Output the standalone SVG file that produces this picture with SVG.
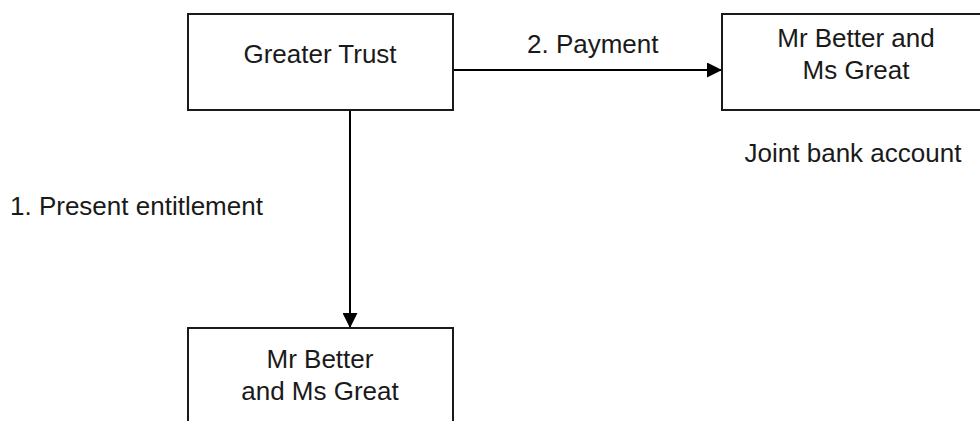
<svg xmlns="http://www.w3.org/2000/svg" width="980" height="421" viewBox="0 0 980 421">
<style>
.box{fill:#fff;stroke:#1a1a1a;stroke-width:2}
.t{font-family:"Liberation Sans",Arial,sans-serif;font-size:26px;fill:#1a1a1a;text-anchor:middle}
.l{font-family:"Liberation Sans",Arial,sans-serif;font-size:26px;fill:#1a1a1a}
.c{fill:none;stroke:#000;stroke-width:2}
</style>
<defs>
<marker id="ah" viewBox="0 0 10 10" refX="10" refY="5" markerWidth="7.5" markerHeight="7.5" markerUnits="strokeWidth" orient="auto">
<path d="M0,0 L10,5 L0,10 z" fill="#000"/>
</marker>
</defs>
<rect width="980" height="421" fill="#fff"/>
<g id="connectors">
<line class="c" x1="453" y1="70" x2="722" y2="70" marker-end="url(#ah)"/>
<line class="c" x1="350" y1="110" x2="350" y2="328" marker-end="url(#ah)"/>
<text class="l" x="527" y="53">2. Payment</text>
<text class="l" x="10" y="215">1. Present entitlement</text>
</g>
<g id="greater-trust">
<rect class="box" x="188" y="14" width="265" height="96"/>
<text class="t" x="320" y="63">Greater Trust</text>
</g>
<g id="joint-account">
<rect class="box" x="722" y="14" width="268" height="96"/>
<text class="t" x="856" y="47">Mr Better and</text>
<text class="t" x="856" y="79">Ms Great</text>
<text class="t" x="853" y="162">Joint bank account</text>
</g>
<g id="beneficiaries">
<rect class="box" x="188" y="328" width="265" height="110"/>
<text class="t" x="320" y="368">Mr Better</text>
<text class="t" x="320" y="400">and Ms Great</text>
</g>
</svg>
